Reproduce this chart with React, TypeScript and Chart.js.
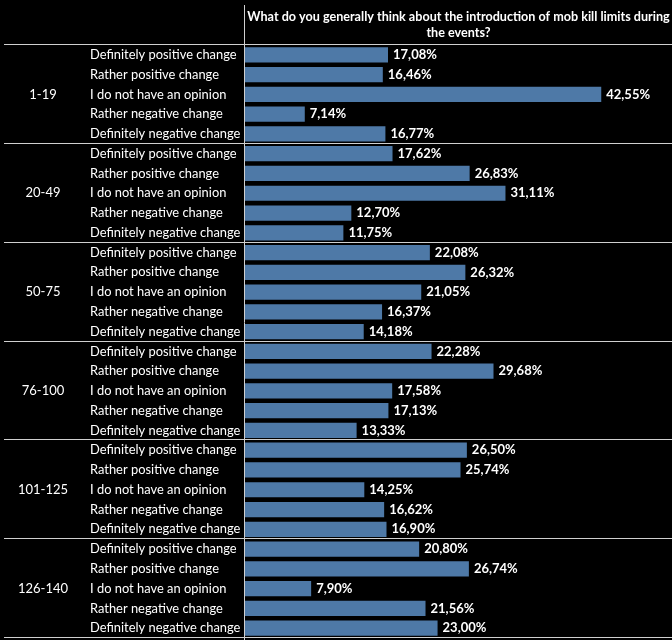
import React, { useEffect, useRef } from "react";
import { Chart, registerables } from "chart.js";

Chart.register(...registerables);

const groups = ["1-19", "20-49", "50-75", "76-100", "101-125", "126-140"];
const answers = [
  "Definitely positive change",
  "Rather positive change",
  "I do not have an opinion",
  "Rather negative change",
  "Definitely negative change",
];
const values1_19 = [17.08, 16.46, 42.55, 7.14, 16.77];
const values20_49 = [17.62, 26.83, 31.11, 12.7, 11.75];
const values50_75 = [22.08, 26.32, 21.05, 16.37, 14.18];
const values76_100 = [22.28, 29.68, 17.58, 17.13, 13.33];
const values101_125 = [26.5, 25.74, 14.25, 16.62, 16.9];
const values126_140 = [20.8, 26.74, 7.9, 21.56, 23.0];
const titleLines = [
  "What do you generally think about the introduction of mob kill limits during",
  "the events?",
];

const allValues = [
  ...values1_19,
  ...values20_49,
  ...values50_75,
  ...values76_100,
  ...values101_125,
  ...values126_140,
];
const labels = groups.flatMap(() => answers);

const FONT = "Lato, 'Open Sans', sans-serif";

const overlay = {
  id: "overlay",
  afterDatasetsDraw(chart: any) {
    const ctx = chart.ctx;
    const area = chart.chartArea;
    const meta = chart.getDatasetMeta(0);
    const yScale = chart.scales.y;
    ctx.save();
    ctx.fillStyle = "#ffffff";
    ctx.textBaseline = "middle";
    // category labels from the y axis
    ctx.font = "12.9px " + FONT;
    ctx.textAlign = "left";
    yScale.ticks.forEach((t: any, i: number) => {
      const lbl = chart.data.labels[t.value ?? i];
      ctx.fillText(lbl, 90, yScale.getPixelForTick(i));
    });
    // value labels
    ctx.font = "bold 13px " + FONT;
    meta.data.forEach((bar: any, i: number) => {
      const v = allValues[i];
      ctx.fillText(v.toFixed(2).replace(".", ",") + "%", bar.x + 5, bar.y);
    });
    // group labels
    ctx.font = "13px " + FONT;
    ctx.textAlign = "center";
    const per = answers.length;
    groups.forEach((g, gi) => {
      const mid = meta.data[gi * per + 2];
      ctx.fillText(g, 43, mid.y);
    });
    // separator lines
    ctx.strokeStyle = "#d0d0d0";
    ctx.lineWidth = 1;
    const step = (area.bottom - area.top) / labels.length;
    for (let k = 0; k <= groups.length; k++) {
      const y = Math.round(area.top + k * per * step) - 0.5;
      ctx.beginPath();
      ctx.moveTo(4, y);
      ctx.lineTo(chart.width, y);
      ctx.stroke();
    }
    // vertical axis line
    ctx.beginPath();
    ctx.moveTo(area.left - 0.5, 5);
    ctx.lineTo(area.left - 0.5, chart.height);
    ctx.stroke();
    // title
    ctx.font = "bold 12.6px " + FONT;
    ctx.textAlign = "center";
    const cx = (area.left + chart.width) / 2;
    ctx.fillText(titleLines[0], cx, 17);
    ctx.fillText(titleLines[1], cx, 33);
    ctx.restore();
  },
};

export default function App() {
  const ref = useRef<HTMLCanvasElement>(null);
  useEffect(() => {
    const chart = new Chart(ref.current!, {
      type: "bar",
      data: {
        labels,
        datasets: [
          {
            data: allValues,
            backgroundColor: "#4e79a7",
            barPercentage: 0.77,
            categoryPercentage: 1,
          },
        ],
      },
      options: {
        indexAxis: "y",
        animation: false,
        responsive: false,
        layout: { padding: { top: 45, bottom: 2, left: 0, right: 0 } },
        plugins: {
          legend: { display: false },
          tooltip: { enabled: false },
          title: { display: false },
        },
        scales: {
          x: {
            display: false,
            min: 0,
            max: 51,
          },
          y: {
            afterFit(scale: any) {
              scale.width = 245;
            },
            grid: { display: false, drawTicks: false },
            border: { display: false },
            ticks: { display: false, autoSkip: false },
          },
        },
      },
      plugins: [overlay],
    });
    return () => chart.destroy();
  }, []);
  return (
    <div style={{ position: "fixed", left: 0, top: 0, width: 672, height: 640, background: "#000" }}>
      <canvas ref={ref} width={672} height={640} style={{ display: "block" }} />
    </div>
  );
}
